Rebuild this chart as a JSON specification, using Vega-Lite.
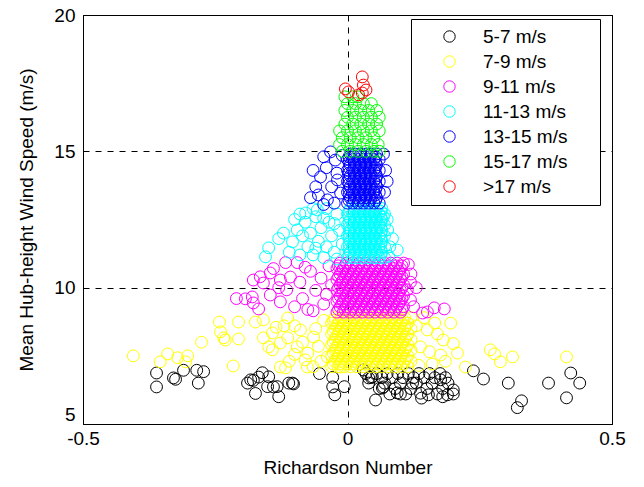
{
"$schema":"https://vega.github.io/schema/vega-lite/v6.json",
"width":529,"height":409,
"autosize":{"type":"none"},
"padding":{"left":83,"top":15,"right":32,"bottom":63},
"background":"white",
"datasets":{
"a":[{"x":-0.361,"y":6.87},{"x":-0.361,"y":6.36},{"x":-0.329,"y":6.69},{"x":-0.325,"y":6.64},{"x":-0.31,"y":6.97},{"x":-0.285,"y":6.97},{"x":-0.272,"y":6.92},{"x":-0.282,"y":6.5},{"x":-0.189,"y":6.5},{"x":-0.178,"y":6.6},{"x":-0.168,"y":6.72},{"x":-0.161,"y":6.88},{"x":-0.149,"y":6.73},{"x":-0.174,"y":6.12},{"x":-0.151,"y":6.37},{"x":-0.133,"y":6.37},{"x":-0.13,"y":6.0},{"x":-0.111,"y":6.5},{"x":-0.102,"y":6.47},{"x":-0.183,"y":6.62},{"x":-0.14,"y":6.36},{"x":-0.104,"y":6.5},{"x":-0.053,"y":6.85},{"x":-0.028,"y":6.71},{"x":-0.028,"y":6.36},{"x":-0.024,"y":6.07},{"x":-0.006,"y":6.37},{"x":0.03,"y":6.98},{"x":0.053,"y":5.88},{"x":0.047,"y":6.73},{"x":0.068,"y":6.36},{"x":0.094,"y":6.14},{"x":0.04,"y":6.69},{"x":0.066,"y":6.32},{"x":0.1,"y":6.1},{"x":0.123,"y":6.5},{"x":0.138,"y":6.13},{"x":0.153,"y":6.07},{"x":0.176,"y":6.62},{"x":0.189,"y":6.07},{"x":0.2,"y":6.25},{"x":0.238,"y":6.95},{"x":0.257,"y":6.65},{"x":0.304,"y":6.5},{"x":0.329,"y":5.85},{"x":0.321,"y":5.6},{"x":0.38,"y":6.5},{"x":0.422,"y":6.87},{"x":0.439,"y":6.5},{"x":0.414,"y":5.96},
{"x":0.035,"y":6.85},{"x":0.055,"y":6.85},{"x":0.075,"y":6.85},{"x":0.095,"y":6.85},{"x":0.115,"y":6.85},{"x":0.135,"y":6.85},{"x":0.155,"y":6.85},{"x":0.175,"y":6.85},
{"x":0.045,"y":6.7},{"x":0.065,"y":6.7},{"x":0.085,"y":6.7},{"x":0.105,"y":6.7},{"x":0.125,"y":6.7},{"x":0.145,"y":6.7},{"x":0.165,"y":6.7},{"x":0.185,"y":6.7},
{"x":0.04,"y":6.5},{"x":0.07,"y":6.5},{"x":0.1,"y":6.5},{"x":0.13,"y":6.5},{"x":0.16,"y":6.5},{"x":0.19,"y":6.5},
{"x":0.06,"y":6.3},{"x":0.09,"y":6.3},{"x":0.12,"y":6.3},{"x":0.15,"y":6.3},{"x":0.18,"y":6.3},
{"x":0.08,"y":6.1},{"x":0.11,"y":6.1},{"x":0.17,"y":6.1},{"x":0.2,"y":6.1},{"x":0.14,"y":5.95},{"x":0.18,"y":6.0}],
"b":[{"x":-0.405,"y":7.5},{"x":-0.354,"y":7.28},{"x":-0.34,"y":7.57},{"x":-0.321,"y":7.43},{"x":-0.302,"y":7.5},{"x":-0.306,"y":7.28},{"x":-0.276,"y":8.0},{"x":-0.242,"y":8.74},{"x":-0.24,"y":8.38},{"x":-0.231,"y":8.08},{"x":-0.206,"y":8.74},{"x":-0.206,"y":8.12},{"x":-0.216,"y":7.13},{"x":-0.174,"y":8.74},{"x":-0.159,"y":8.82},{"x":-0.159,"y":8.16},{"x":-0.142,"y":8.34},{"x":-0.142,"y":7.72},{"x":-0.127,"y":7.97},{"x":-0.113,"y":8.16},{"x":-0.117,"y":7.06},{"x":-0.113,"y":8.89},{"x":-0.095,"y":7.83},{"x":-0.076,"y":7.09},{"x":-0.089,"y":8.45},{"x":-0.064,"y":8.19},{"x":-0.038,"y":7.46},{"x":-0.013,"y":7.09},{"x":-0.234,"y":8.16},{"x":-0.149,"y":7.83},{"x":-0.127,"y":7.09},{"x":-0.1,"y":8.6},{"x":-0.085,"y":8.0},{"x":-0.075,"y":7.6},{"x":-0.06,"y":8.5},{"x":-0.055,"y":7.85},{"x":-0.05,"y":7.3},{"x":-0.045,"y":8.8},{"x":-0.08,"y":7.35},{"x":-0.1,"y":7.55},{"x":-0.12,"y":8.6},{"x":-0.065,"y":7.1},{"x":-0.11,"y":7.3},{"x":-0.135,"y":8.55},
{"x":0.195,"y":8.7},{"x":0.181,"y":8.08},{"x":0.208,"y":7.6},{"x":0.223,"y":7.09},{"x":0.27,"y":7.72},{"x":0.278,"y":7.57},{"x":0.289,"y":7.28},{"x":0.312,"y":7.46},{"x":0.414,"y":7.46},{"x":0.176,"y":7.53},{"x":0.151,"y":8.45},{"x":0.138,"y":7.83},{"x":0.16,"y":7.2},{"x":0.17,"y":8.3},{"x":0.145,"y":8.9},{"x":0.185,"y":7.3},{"x":0.135,"y":7.15},{"x":0.2,"y":7.95},{"x":0.13,"y":8.6},{"x":0.155,"y":7.65},{"x":0.165,"y":8.7},
{"x":-0.03,"y":7.1},{"x":-0.018,"y":7.1},{"x":-0.006,"y":7.1},{"x":0.006,"y":7.1},{"x":0.018,"y":7.1},{"x":0.03,"y":7.1},{"x":0.042,"y":7.1},{"x":0.054,"y":7.1},{"x":0.066,"y":7.1},{"x":0.078,"y":7.1},{"x":0.09,"y":7.1},{"x":0.102,"y":7.1},{"x":0.114,"y":7.1},
{"x":-0.024,"y":7.3},{"x":-0.012,"y":7.3},{"x":0,"y":7.3},{"x":0.012,"y":7.3},{"x":0.024,"y":7.3},{"x":0.036,"y":7.3},{"x":0.048,"y":7.3},{"x":0.06,"y":7.3},{"x":0.072,"y":7.3},{"x":0.084,"y":7.3},{"x":0.096,"y":7.3},{"x":0.108,"y":7.3},{"x":0.12,"y":7.3},
{"x":-0.03,"y":7.5},{"x":-0.018,"y":7.5},{"x":-0.006,"y":7.5},{"x":0.006,"y":7.5},{"x":0.018,"y":7.5},{"x":0.03,"y":7.5},{"x":0.042,"y":7.5},{"x":0.054,"y":7.5},{"x":0.066,"y":7.5},{"x":0.078,"y":7.5},{"x":0.09,"y":7.5},{"x":0.102,"y":7.5},{"x":0.114,"y":7.5},
{"x":-0.024,"y":7.7},{"x":-0.012,"y":7.7},{"x":0,"y":7.7},{"x":0.012,"y":7.7},{"x":0.024,"y":7.7},{"x":0.036,"y":7.7},{"x":0.048,"y":7.7},{"x":0.06,"y":7.7},{"x":0.072,"y":7.7},{"x":0.084,"y":7.7},{"x":0.096,"y":7.7},{"x":0.108,"y":7.7},{"x":0.12,"y":7.7},
{"x":-0.03,"y":7.9},{"x":-0.018,"y":7.9},{"x":-0.006,"y":7.9},{"x":0.006,"y":7.9},{"x":0.018,"y":7.9},{"x":0.03,"y":7.9},{"x":0.042,"y":7.9},{"x":0.054,"y":7.9},{"x":0.066,"y":7.9},{"x":0.078,"y":7.9},{"x":0.09,"y":7.9},{"x":0.102,"y":7.9},{"x":0.114,"y":7.9},
{"x":-0.024,"y":8.1},{"x":-0.012,"y":8.1},{"x":0,"y":8.1},{"x":0.012,"y":8.1},{"x":0.024,"y":8.1},{"x":0.036,"y":8.1},{"x":0.048,"y":8.1},{"x":0.06,"y":8.1},{"x":0.072,"y":8.1},{"x":0.084,"y":8.1},{"x":0.096,"y":8.1},{"x":0.108,"y":8.1},{"x":0.12,"y":8.1},
{"x":-0.03,"y":8.3},{"x":-0.018,"y":8.3},{"x":-0.006,"y":8.3},{"x":0.006,"y":8.3},{"x":0.018,"y":8.3},{"x":0.03,"y":8.3},{"x":0.042,"y":8.3},{"x":0.054,"y":8.3},{"x":0.066,"y":8.3},{"x":0.078,"y":8.3},{"x":0.09,"y":8.3},{"x":0.102,"y":8.3},{"x":0.114,"y":8.3},
{"x":-0.024,"y":8.5},{"x":-0.012,"y":8.5},{"x":0,"y":8.5},{"x":0.012,"y":8.5},{"x":0.024,"y":8.5},{"x":0.036,"y":8.5},{"x":0.048,"y":8.5},{"x":0.06,"y":8.5},{"x":0.072,"y":8.5},{"x":0.084,"y":8.5},{"x":0.096,"y":8.5},{"x":0.108,"y":8.5},{"x":0.12,"y":8.5},
{"x":-0.03,"y":8.7},{"x":-0.018,"y":8.7},{"x":-0.006,"y":8.7},{"x":0.006,"y":8.7},{"x":0.018,"y":8.7},{"x":0.03,"y":8.7},{"x":0.042,"y":8.7},{"x":0.054,"y":8.7},{"x":0.066,"y":8.7},{"x":0.078,"y":8.7},{"x":0.09,"y":8.7},{"x":0.102,"y":8.7},{"x":0.114,"y":8.7},
{"x":-0.024,"y":8.9},{"x":-0.012,"y":8.9},{"x":0,"y":8.9},{"x":0.012,"y":8.9},{"x":0.024,"y":8.9},{"x":0.036,"y":8.9},{"x":0.048,"y":8.9},{"x":0.06,"y":8.9},{"x":0.072,"y":8.9},{"x":0.084,"y":8.9},{"x":0.096,"y":8.9},{"x":0.108,"y":8.9},{"x":0.12,"y":8.9},
{"x":-0.027,"y":7.2},{"x":-0.015,"y":7.2},{"x":-0.003,"y":7.2},{"x":0.009,"y":7.2},{"x":0.021,"y":7.2},{"x":0.033,"y":7.2},{"x":0.045,"y":7.2},{"x":0.057,"y":7.2},{"x":0.069,"y":7.2},{"x":0.081,"y":7.2},{"x":0.093,"y":7.2},{"x":0.105,"y":7.2},
{"x":-0.021,"y":7.4},{"x":-0.009,"y":7.4},{"x":0.003,"y":7.4},{"x":0.015,"y":7.4},{"x":0.027,"y":7.4},{"x":0.039,"y":7.4},{"x":0.051,"y":7.4},{"x":0.063,"y":7.4},{"x":0.075,"y":7.4},{"x":0.087,"y":7.4},{"x":0.099,"y":7.4},{"x":0.111,"y":7.4},
{"x":-0.027,"y":7.6},{"x":-0.015,"y":7.6},{"x":-0.003,"y":7.6},{"x":0.009,"y":7.6},{"x":0.021,"y":7.6},{"x":0.033,"y":7.6},{"x":0.045,"y":7.6},{"x":0.057,"y":7.6},{"x":0.069,"y":7.6},{"x":0.081,"y":7.6},{"x":0.093,"y":7.6},{"x":0.105,"y":7.6},
{"x":-0.021,"y":7.8},{"x":-0.009,"y":7.8},{"x":0.003,"y":7.8},{"x":0.015,"y":7.8},{"x":0.027,"y":7.8},{"x":0.039,"y":7.8},{"x":0.051,"y":7.8},{"x":0.063,"y":7.8},{"x":0.075,"y":7.8},{"x":0.087,"y":7.8},{"x":0.099,"y":7.8},{"x":0.111,"y":7.8},
{"x":-0.027,"y":8.0},{"x":-0.015,"y":8.0},{"x":-0.003,"y":8.0},{"x":0.009,"y":8.0},{"x":0.021,"y":8.0},{"x":0.033,"y":8.0},{"x":0.045,"y":8.0},{"x":0.057,"y":8.0},{"x":0.069,"y":8.0},{"x":0.081,"y":8.0},{"x":0.093,"y":8.0},{"x":0.105,"y":8.0},
{"x":-0.021,"y":8.2},{"x":-0.009,"y":8.2},{"x":0.003,"y":8.2},{"x":0.015,"y":8.2},{"x":0.027,"y":8.2},{"x":0.039,"y":8.2},{"x":0.051,"y":8.2},{"x":0.063,"y":8.2},{"x":0.075,"y":8.2},{"x":0.087,"y":8.2},{"x":0.099,"y":8.2},{"x":0.111,"y":8.2},
{"x":-0.027,"y":8.4},{"x":-0.015,"y":8.4},{"x":-0.003,"y":8.4},{"x":0.009,"y":8.4},{"x":0.021,"y":8.4},{"x":0.033,"y":8.4},{"x":0.045,"y":8.4},{"x":0.057,"y":8.4},{"x":0.069,"y":8.4},{"x":0.081,"y":8.4},{"x":0.093,"y":8.4},{"x":0.105,"y":8.4},
{"x":-0.021,"y":8.6},{"x":-0.009,"y":8.6},{"x":0.003,"y":8.6},{"x":0.015,"y":8.6},{"x":0.027,"y":8.6},{"x":0.039,"y":8.6},{"x":0.051,"y":8.6},{"x":0.063,"y":8.6},{"x":0.075,"y":8.6},{"x":0.087,"y":8.6},{"x":0.099,"y":8.6},{"x":0.111,"y":8.6},
{"x":-0.027,"y":8.8},{"x":-0.015,"y":8.8},{"x":-0.003,"y":8.8},{"x":0.009,"y":8.8},{"x":0.021,"y":8.8},{"x":0.033,"y":8.8},{"x":0.045,"y":8.8},{"x":0.057,"y":8.8},{"x":0.069,"y":8.8},{"x":0.081,"y":8.8},{"x":0.093,"y":8.8},{"x":0.105,"y":8.8}],
"c":[{"x":-0.193,"y":9.59},{"x":-0.18,"y":9.66},{"x":-0.178,"y":9.44},{"x":-0.168,"y":9.22},{"x":-0.178,"y":10.28},{"x":-0.159,"y":10.17},{"x":-0.146,"y":10.54},{"x":-0.146,"y":9.73},{"x":-0.127,"y":9.48},{"x":-0.115,"y":9.92},{"x":-0.108,"y":10.39},{"x":-0.127,"y":10.28},{"x":-0.21,"y":9.6},{"x":-0.165,"y":10.4},{"x":-0.14,"y":10.7},{"x":-0.117,"y":10.92},{"x":-0.095,"y":10.92},{"x":-0.09,"y":10.2},{"x":-0.085,"y":9.6},{"x":-0.075,"y":9.2},{"x":-0.07,"y":10.6},{"x":-0.06,"y":9.9},{"x":-0.05,"y":10.35},{"x":-0.045,"y":9.4},{"x":-0.035,"y":10.8},{"x":-0.1,"y":9.3},{"x":-0.13,"y":10.0},{"x":-0.065,"y":9.15},{"x":-0.04,"y":9.75},{"x":-0.08,"y":10.75},{"x":-0.03,"y":10.1},
{"x":0.113,"y":9.92},{"x":0.119,"y":9.55},{"x":0.142,"y":9.07},{"x":0.151,"y":9.11},{"x":0.164,"y":9.26},{"x":0.183,"y":9.22},{"x":0.119,"y":10.2},{"x":0.12,"y":10.5},{"x":0.115,"y":10.85},{"x":0.125,"y":9.3},{"x":0.13,"y":10.0},
{"x":-0.02,"y":9.1},{"x":-0.008,"y":9.1},{"x":0.004,"y":9.1},{"x":0.016,"y":9.1},{"x":0.028,"y":9.1},{"x":0.04,"y":9.1},{"x":0.052,"y":9.1},{"x":0.064,"y":9.1},{"x":0.076,"y":9.1},{"x":0.088,"y":9.1},{"x":0.1,"y":9.1},
{"x":-0.014,"y":9.3},{"x":-0.002,"y":9.3},{"x":0.01,"y":9.3},{"x":0.022,"y":9.3},{"x":0.034,"y":9.3},{"x":0.046,"y":9.3},{"x":0.058,"y":9.3},{"x":0.07,"y":9.3},{"x":0.082,"y":9.3},{"x":0.094,"y":9.3},{"x":0.106,"y":9.3},
{"x":-0.02,"y":9.5},{"x":-0.008,"y":9.5},{"x":0.004,"y":9.5},{"x":0.016,"y":9.5},{"x":0.028,"y":9.5},{"x":0.04,"y":9.5},{"x":0.052,"y":9.5},{"x":0.064,"y":9.5},{"x":0.076,"y":9.5},{"x":0.088,"y":9.5},{"x":0.1,"y":9.5},
{"x":-0.014,"y":9.7},{"x":-0.002,"y":9.7},{"x":0.01,"y":9.7},{"x":0.022,"y":9.7},{"x":0.034,"y":9.7},{"x":0.046,"y":9.7},{"x":0.058,"y":9.7},{"x":0.07,"y":9.7},{"x":0.082,"y":9.7},{"x":0.094,"y":9.7},{"x":0.106,"y":9.7},
{"x":-0.02,"y":9.9},{"x":-0.008,"y":9.9},{"x":0.004,"y":9.9},{"x":0.016,"y":9.9},{"x":0.028,"y":9.9},{"x":0.04,"y":9.9},{"x":0.052,"y":9.9},{"x":0.064,"y":9.9},{"x":0.076,"y":9.9},{"x":0.088,"y":9.9},{"x":0.1,"y":9.9},
{"x":-0.014,"y":10.1},{"x":-0.002,"y":10.1},{"x":0.01,"y":10.1},{"x":0.022,"y":10.1},{"x":0.034,"y":10.1},{"x":0.046,"y":10.1},{"x":0.058,"y":10.1},{"x":0.07,"y":10.1},{"x":0.082,"y":10.1},{"x":0.094,"y":10.1},{"x":0.106,"y":10.1},
{"x":-0.02,"y":10.3},{"x":-0.008,"y":10.3},{"x":0.004,"y":10.3},{"x":0.016,"y":10.3},{"x":0.028,"y":10.3},{"x":0.04,"y":10.3},{"x":0.052,"y":10.3},{"x":0.064,"y":10.3},{"x":0.076,"y":10.3},{"x":0.088,"y":10.3},{"x":0.1,"y":10.3},
{"x":-0.014,"y":10.5},{"x":-0.002,"y":10.5},{"x":0.01,"y":10.5},{"x":0.022,"y":10.5},{"x":0.034,"y":10.5},{"x":0.046,"y":10.5},{"x":0.058,"y":10.5},{"x":0.07,"y":10.5},{"x":0.082,"y":10.5},{"x":0.094,"y":10.5},{"x":0.106,"y":10.5},
{"x":-0.02,"y":10.7},{"x":-0.008,"y":10.7},{"x":0.004,"y":10.7},{"x":0.016,"y":10.7},{"x":0.028,"y":10.7},{"x":0.04,"y":10.7},{"x":0.052,"y":10.7},{"x":0.064,"y":10.7},{"x":0.076,"y":10.7},{"x":0.088,"y":10.7},{"x":0.1,"y":10.7},
{"x":-0.014,"y":10.9},{"x":-0.002,"y":10.9},{"x":0.01,"y":10.9},{"x":0.022,"y":10.9},{"x":0.034,"y":10.9},{"x":0.046,"y":10.9},{"x":0.058,"y":10.9},{"x":0.07,"y":10.9},{"x":0.082,"y":10.9},{"x":0.094,"y":10.9},{"x":0.106,"y":10.9},
{"x":-0.017,"y":9.2},{"x":-0.005,"y":9.2},{"x":0.007,"y":9.2},{"x":0.019,"y":9.2},{"x":0.031,"y":9.2},{"x":0.043,"y":9.2},{"x":0.055,"y":9.2},{"x":0.067,"y":9.2},{"x":0.079,"y":9.2},{"x":0.091,"y":9.2},{"x":0.103,"y":9.2},
{"x":-0.011,"y":9.4},{"x":0.001,"y":9.4},{"x":0.013,"y":9.4},{"x":0.025,"y":9.4},{"x":0.037,"y":9.4},{"x":0.049,"y":9.4},{"x":0.061,"y":9.4},{"x":0.073,"y":9.4},{"x":0.085,"y":9.4},{"x":0.097,"y":9.4},
{"x":-0.017,"y":9.6},{"x":-0.005,"y":9.6},{"x":0.007,"y":9.6},{"x":0.019,"y":9.6},{"x":0.031,"y":9.6},{"x":0.043,"y":9.6},{"x":0.055,"y":9.6},{"x":0.067,"y":9.6},{"x":0.079,"y":9.6},{"x":0.091,"y":9.6},{"x":0.103,"y":9.6},
{"x":-0.011,"y":9.8},{"x":0.001,"y":9.8},{"x":0.013,"y":9.8},{"x":0.025,"y":9.8},{"x":0.037,"y":9.8},{"x":0.049,"y":9.8},{"x":0.061,"y":9.8},{"x":0.073,"y":9.8},{"x":0.085,"y":9.8},{"x":0.097,"y":9.8},
{"x":-0.017,"y":10.0},{"x":-0.005,"y":10.0},{"x":0.007,"y":10.0},{"x":0.019,"y":10.0},{"x":0.031,"y":10.0},{"x":0.043,"y":10.0},{"x":0.055,"y":10.0},{"x":0.067,"y":10.0},{"x":0.079,"y":10.0},{"x":0.091,"y":10.0},{"x":0.103,"y":10.0},
{"x":-0.011,"y":10.2},{"x":0.001,"y":10.2},{"x":0.013,"y":10.2},{"x":0.025,"y":10.2},{"x":0.037,"y":10.2},{"x":0.049,"y":10.2},{"x":0.061,"y":10.2},{"x":0.073,"y":10.2},{"x":0.085,"y":10.2},{"x":0.097,"y":10.2},
{"x":-0.017,"y":10.4},{"x":-0.005,"y":10.4},{"x":0.007,"y":10.4},{"x":0.019,"y":10.4},{"x":0.031,"y":10.4},{"x":0.043,"y":10.4},{"x":0.055,"y":10.4},{"x":0.067,"y":10.4},{"x":0.079,"y":10.4},{"x":0.091,"y":10.4},{"x":0.103,"y":10.4},
{"x":-0.011,"y":10.6},{"x":0.001,"y":10.6},{"x":0.013,"y":10.6},{"x":0.025,"y":10.6},{"x":0.037,"y":10.6},{"x":0.049,"y":10.6},{"x":0.061,"y":10.6},{"x":0.073,"y":10.6},{"x":0.085,"y":10.6},{"x":0.097,"y":10.6},
{"x":-0.017,"y":10.8},{"x":-0.005,"y":10.8},{"x":0.007,"y":10.8},{"x":0.019,"y":10.8},{"x":0.031,"y":10.8},{"x":0.043,"y":10.8},{"x":0.055,"y":10.8},{"x":0.067,"y":10.8},{"x":0.079,"y":10.8},{"x":0.091,"y":10.8},{"x":0.103,"y":10.8}],
"d":[{"x":-0.121,"y":12.0},{"x":-0.149,"y":11.46},{"x":-0.155,"y":11.13},{"x":-0.104,"y":11.68},{"x":-0.095,"y":12.12},{"x":-0.079,"y":12.74},{"x":-0.057,"y":12.85},{"x":0.094,"y":11.38},{"x":0.076,"y":12.12},{"x":0.068,"y":12.6},{"x":-0.09,"y":11.2},{"x":-0.085,"y":11.9},{"x":-0.08,"y":12.4},{"x":-0.075,"y":11.5},{"x":-0.07,"y":12.0},{"x":-0.065,"y":11.2},{"x":-0.06,"y":12.6},{"x":-0.055,"y":11.7},{"x":-0.05,"y":12.2},{"x":-0.045,"y":11.1},{"x":-0.04,"y":12.9},{"x":-0.04,"y":11.5},{"x":-0.035,"y":12.4},{"x":-0.03,"y":11.9},{"x":-0.025,"y":11.3},{"x":-0.02,"y":12.7},{"x":-0.015,"y":12.1},{"x":-0.01,"y":11.6},{"x":-0.11,"y":11.3},{"x":-0.1,"y":12.5},{"x":-0.065,"y":12.9},{"x":-0.13,"y":11.8},{"x":0.08,"y":11.5},{"x":0.085,"y":11.8},{"x":0.075,"y":12.5},{"x":0.078,"y":11.15},{"x":-0.045,"y":12.55},{"x":-0.025,"y":12.35},{"x":-0.06,"y":11.45},{"x":-0.02,"y":11.05},{"x":-0.09,"y":12.7},
{"x":0,"y":11.1},{"x":0.01,"y":11.1},{"x":0.02,"y":11.1},{"x":0.03,"y":11.1},{"x":0.04,"y":11.1},{"x":0.05,"y":11.1},{"x":0.06,"y":11.1},{"x":0.07,"y":11.1},
{"x":0.005,"y":11.3},{"x":0.015,"y":11.3},{"x":0.025,"y":11.3},{"x":0.035,"y":11.3},{"x":0.045,"y":11.3},{"x":0.055,"y":11.3},{"x":0.065,"y":11.3},
{"x":0,"y":11.5},{"x":0.01,"y":11.5},{"x":0.02,"y":11.5},{"x":0.03,"y":11.5},{"x":0.04,"y":11.5},{"x":0.05,"y":11.5},{"x":0.06,"y":11.5},{"x":0.07,"y":11.5},
{"x":0.005,"y":11.7},{"x":0.015,"y":11.7},{"x":0.025,"y":11.7},{"x":0.035,"y":11.7},{"x":0.045,"y":11.7},{"x":0.055,"y":11.7},{"x":0.065,"y":11.7},
{"x":0,"y":11.9},{"x":0.01,"y":11.9},{"x":0.02,"y":11.9},{"x":0.03,"y":11.9},{"x":0.04,"y":11.9},{"x":0.05,"y":11.9},{"x":0.06,"y":11.9},{"x":0.07,"y":11.9},
{"x":0.005,"y":12.1},{"x":0.015,"y":12.1},{"x":0.025,"y":12.1},{"x":0.035,"y":12.1},{"x":0.045,"y":12.1},{"x":0.055,"y":12.1},{"x":0.065,"y":12.1},
{"x":0,"y":12.3},{"x":0.01,"y":12.3},{"x":0.02,"y":12.3},{"x":0.03,"y":12.3},{"x":0.04,"y":12.3},{"x":0.05,"y":12.3},{"x":0.06,"y":12.3},{"x":0.07,"y":12.3},
{"x":0.005,"y":12.5},{"x":0.015,"y":12.5},{"x":0.025,"y":12.5},{"x":0.035,"y":12.5},{"x":0.045,"y":12.5},{"x":0.055,"y":12.5},{"x":0.065,"y":12.5},
{"x":0,"y":12.7},{"x":0.01,"y":12.7},{"x":0.02,"y":12.7},{"x":0.03,"y":12.7},{"x":0.04,"y":12.7},{"x":0.05,"y":12.7},{"x":0.06,"y":12.7},{"x":0.07,"y":12.7},
{"x":0.005,"y":12.9},{"x":0.015,"y":12.9},{"x":0.025,"y":12.9},{"x":0.035,"y":12.9},{"x":0.045,"y":12.9},{"x":0.055,"y":12.9},{"x":0.065,"y":12.9},
{"x":0.003,"y":11.2},{"x":0.013,"y":11.2},{"x":0.023,"y":11.2},{"x":0.033,"y":11.2},{"x":0.043,"y":11.2},{"x":0.053,"y":11.2},{"x":0.063,"y":11.2},
{"x":0.003,"y":11.4},{"x":0.013,"y":11.4},{"x":0.023,"y":11.4},{"x":0.033,"y":11.4},{"x":0.043,"y":11.4},{"x":0.053,"y":11.4},{"x":0.063,"y":11.4},
{"x":0.003,"y":11.6},{"x":0.013,"y":11.6},{"x":0.023,"y":11.6},{"x":0.033,"y":11.6},{"x":0.043,"y":11.6},{"x":0.053,"y":11.6},{"x":0.063,"y":11.6},
{"x":0.003,"y":11.8},{"x":0.013,"y":11.8},{"x":0.023,"y":11.8},{"x":0.033,"y":11.8},{"x":0.043,"y":11.8},{"x":0.053,"y":11.8},{"x":0.063,"y":11.8},
{"x":0.003,"y":12.0},{"x":0.013,"y":12.0},{"x":0.023,"y":12.0},{"x":0.033,"y":12.0},{"x":0.043,"y":12.0},{"x":0.053,"y":12.0},{"x":0.063,"y":12.0},
{"x":0.003,"y":12.2},{"x":0.013,"y":12.2},{"x":0.023,"y":12.2},{"x":0.033,"y":12.2},{"x":0.043,"y":12.2},{"x":0.053,"y":12.2},{"x":0.063,"y":12.2},
{"x":0.003,"y":12.4},{"x":0.013,"y":12.4},{"x":0.023,"y":12.4},{"x":0.033,"y":12.4},{"x":0.043,"y":12.4},{"x":0.053,"y":12.4},{"x":0.063,"y":12.4},
{"x":0.003,"y":12.6},{"x":0.013,"y":12.6},{"x":0.023,"y":12.6},{"x":0.033,"y":12.6},{"x":0.043,"y":12.6},{"x":0.053,"y":12.6},{"x":0.063,"y":12.6},
{"x":0.003,"y":12.8},{"x":0.013,"y":12.8},{"x":0.023,"y":12.8},{"x":0.033,"y":12.8},{"x":0.043,"y":12.8},{"x":0.053,"y":12.8},{"x":0.063,"y":12.8}],
"e":[{"x":-0.032,"y":14.98},{"x":-0.045,"y":14.8},{"x":-0.051,"y":14.06},{"x":-0.055,"y":13.4},{"x":-0.038,"y":13.22},{"x":-0.019,"y":13.95},{"x":-0.023,"y":14.68},{"x":-0.013,"y":13.47},{"x":-0.06,"y":13.7},{"x":-0.065,"y":14.3},{"x":-0.04,"y":14.4},{"x":-0.03,"y":13.7},{"x":-0.02,"y":14.2},{"x":-0.01,"y":14.85},{"x":-0.045,"y":13.05},{"x":-0.07,"y":13.3},{"x":-0.025,"y":13.1},{"x":0.07,"y":13.5},{"x":0.072,"y":14.3},{"x":0.068,"y":14.9},{"x":0.075,"y":13.9},
{"x":0,"y":13.1},{"x":0.01,"y":13.1},{"x":0.02,"y":13.1},{"x":0.03,"y":13.1},{"x":0.04,"y":13.1},{"x":0.05,"y":13.1},{"x":0.06,"y":13.1},
{"x":0.005,"y":13.3},{"x":0.015,"y":13.3},{"x":0.025,"y":13.3},{"x":0.035,"y":13.3},{"x":0.045,"y":13.3},{"x":0.055,"y":13.3},
{"x":0,"y":13.5},{"x":0.01,"y":13.5},{"x":0.02,"y":13.5},{"x":0.03,"y":13.5},{"x":0.04,"y":13.5},{"x":0.05,"y":13.5},{"x":0.06,"y":13.5},
{"x":0.005,"y":13.7},{"x":0.015,"y":13.7},{"x":0.025,"y":13.7},{"x":0.035,"y":13.7},{"x":0.045,"y":13.7},{"x":0.055,"y":13.7},
{"x":0,"y":13.9},{"x":0.01,"y":13.9},{"x":0.02,"y":13.9},{"x":0.03,"y":13.9},{"x":0.04,"y":13.9},{"x":0.05,"y":13.9},{"x":0.06,"y":13.9},
{"x":0.005,"y":14.1},{"x":0.015,"y":14.1},{"x":0.025,"y":14.1},{"x":0.035,"y":14.1},{"x":0.045,"y":14.1},{"x":0.055,"y":14.1},
{"x":0,"y":14.3},{"x":0.01,"y":14.3},{"x":0.02,"y":14.3},{"x":0.03,"y":14.3},{"x":0.04,"y":14.3},{"x":0.05,"y":14.3},{"x":0.06,"y":14.3},
{"x":0.005,"y":14.5},{"x":0.015,"y":14.5},{"x":0.025,"y":14.5},{"x":0.035,"y":14.5},{"x":0.045,"y":14.5},{"x":0.055,"y":14.5},
{"x":0,"y":14.7},{"x":0.01,"y":14.7},{"x":0.02,"y":14.7},{"x":0.03,"y":14.7},{"x":0.04,"y":14.7},{"x":0.05,"y":14.7},{"x":0.06,"y":14.7},
{"x":0.005,"y":14.9},{"x":0.015,"y":14.9},{"x":0.025,"y":14.9},{"x":0.035,"y":14.9},{"x":0.045,"y":14.9},{"x":0.055,"y":14.9},
{"x":0.003,"y":13.2},{"x":0.013,"y":13.2},{"x":0.023,"y":13.2},{"x":0.033,"y":13.2},{"x":0.043,"y":13.2},{"x":0.053,"y":13.2},
{"x":0.003,"y":13.4},{"x":0.013,"y":13.4},{"x":0.023,"y":13.4},{"x":0.033,"y":13.4},{"x":0.043,"y":13.4},{"x":0.053,"y":13.4},
{"x":0.003,"y":13.6},{"x":0.013,"y":13.6},{"x":0.023,"y":13.6},{"x":0.033,"y":13.6},{"x":0.043,"y":13.6},{"x":0.053,"y":13.6},
{"x":0.003,"y":13.8},{"x":0.013,"y":13.8},{"x":0.023,"y":13.8},{"x":0.033,"y":13.8},{"x":0.043,"y":13.8},{"x":0.053,"y":13.8},
{"x":0.003,"y":14.0},{"x":0.013,"y":14.0},{"x":0.023,"y":14.0},{"x":0.033,"y":14.0},{"x":0.043,"y":14.0},{"x":0.053,"y":14.0},
{"x":0.003,"y":14.2},{"x":0.013,"y":14.2},{"x":0.023,"y":14.2},{"x":0.033,"y":14.2},{"x":0.043,"y":14.2},{"x":0.053,"y":14.2},
{"x":0.003,"y":14.4},{"x":0.013,"y":14.4},{"x":0.023,"y":14.4},{"x":0.033,"y":14.4},{"x":0.043,"y":14.4},{"x":0.053,"y":14.4},
{"x":0.003,"y":14.6},{"x":0.013,"y":14.6},{"x":0.023,"y":14.6},{"x":0.033,"y":14.6},{"x":0.043,"y":14.6},{"x":0.053,"y":14.6},
{"x":0.003,"y":14.8},{"x":0.013,"y":14.8},{"x":0.023,"y":14.8},{"x":0.033,"y":14.8},{"x":0.043,"y":14.8},{"x":0.053,"y":14.8}],
"f":[{"x":-0.01,"y":15.0},{"x":0.005,"y":15.0},{"x":0.02,"y":15.0},{"x":0.035,"y":15.0},{"x":0.05,"y":15.0},{"x":0.06,"y":15.0},
{"x":-0.015,"y":15.25},{"x":0,"y":15.25},{"x":0.015,"y":15.25},{"x":0.03,"y":15.25},{"x":0.045,"y":15.25},{"x":0.058,"y":15.25},
{"x":-0.01,"y":15.5},{"x":0.005,"y":15.5},{"x":0.02,"y":15.5},{"x":0.035,"y":15.5},{"x":0.05,"y":15.5},
{"x":-0.015,"y":15.75},{"x":0,"y":15.75},{"x":0.015,"y":15.75},{"x":0.03,"y":15.75},{"x":0.045,"y":15.75},{"x":0.06,"y":15.75},
{"x":-0.005,"y":16.0},{"x":0.01,"y":16.0},{"x":0.025,"y":16.0},{"x":0.04,"y":16.0},{"x":0.055,"y":16.0},
{"x":0,"y":16.25},{"x":0.015,"y":16.25},{"x":0.03,"y":16.25},{"x":0.045,"y":16.25},{"x":0.06,"y":16.25},
{"x":-0.005,"y":16.5},{"x":0.01,"y":16.5},{"x":0.025,"y":16.5},{"x":0.04,"y":16.5},{"x":0.055,"y":16.5},
{"x":0,"y":16.75},{"x":0.015,"y":16.75},{"x":0.03,"y":16.75},{"x":0.045,"y":16.75},
{"x":-0.005,"y":17.0},{"x":0.01,"y":17.0},{"x":0.02,"y":17.0}],
"g":[{"x":0.028,"y":17.73},{"x":0.03,"y":17.43},{"x":0.028,"y":17.14},{"x":-0.004,"y":17.29},{"x":0.002,"y":17.18},{"x":0.021,"y":17.07},{"x":0.035,"y":17.25}]
},
"encoding":{
"x":{"field":"x","type":"quantitative","scale":{"domain":[-0.5,0.5],"nice":false,"zero":false},"axis":{"values":[-0.5,0,0.5],"format":".1~f","title":"Richardson Number","labelExpr":"replace(datum.label, '\u2212', '-')","labelFlush":false,"labelPadding":5,"titlePadding":10}},
"y":{"field":"y","type":"quantitative","scale":{"domain":[5,20],"nice":false,"zero":false},"axis":{"values":[5,10,15,20],"title":"Mean Hub-height Wind Speed (m/s)","labelFlush":false,"labelBaseline":{"condition":{"test":"datum.value == 5","value":"bottom"},"value":"middle"},"labelPadding":8,"titlePadding":17}}
},
"layer":[
{"data":{"name":"a"},"mark":{"type":"point","filled":false,"size":140,"strokeWidth":1,"opacity":1},"encoding":{"color":{"datum":"5-7 m/s","type":"nominal","scale":{"domain":["5-7 m/s","7-9 m/s","9-11 m/s","11-13 m/s","13-15 m/s","15-17 m/s",">17 m/s"],"range":["#000000","#ffff00","#ff00ff","#00ffff","#0000ff","#00ff00","#ff0000"]},"legend":{"title":"\u00a0","titleOrient":"right","titlePadding":25,"titleFontSize":19}}}},
{"data":{"name":"b"},"mark":{"type":"point","filled":false,"size":140,"strokeWidth":1,"opacity":1},"encoding":{"color":{"datum":"7-9 m/s","type":"nominal"}}},
{"data":{"name":"c"},"mark":{"type":"point","filled":false,"size":140,"strokeWidth":1,"opacity":1},"encoding":{"color":{"datum":"9-11 m/s","type":"nominal"}}},
{"data":{"name":"d"},"mark":{"type":"point","filled":false,"size":140,"strokeWidth":1,"opacity":1},"encoding":{"color":{"datum":"11-13 m/s","type":"nominal"}}},
{"data":{"name":"e"},"mark":{"type":"point","filled":false,"size":140,"strokeWidth":1,"opacity":1},"encoding":{"color":{"datum":"13-15 m/s","type":"nominal"}}},
{"data":{"name":"f"},"mark":{"type":"point","filled":false,"size":140,"strokeWidth":1,"opacity":1},"encoding":{"color":{"datum":"15-17 m/s","type":"nominal"}}},
{"data":{"name":"g"},"mark":{"type":"point","filled":false,"size":140,"strokeWidth":1,"opacity":1},"encoding":{"color":{"datum":">17 m/s","type":"nominal"}}}
],
"config":{
"font":"Liberation Sans",
"view":{"stroke":"black","strokeWidth":1},
"axis":{"domainColor":"black","domainWidth":1,"labelColor":"black","titleColor":"black","labelFontSize":19,"titleFontSize":19,"titleFontWeight":"normal","labelFont":"Liberation Sans","titleFont":"Liberation Sans","ticks":false,"grid":true,"gridColor":"black","gridDash":[6,6],"gridOpacity":1,"gridWidth":1},
"legend":{"orient":"none","legendX":328,"legendY":4,"strokeColor":"black","fillColor":"white","padding":8,"labelFontSize":19,"labelFont":"Liberation Sans","labelColor":"black","symbolSize":130,"symbolStrokeWidth":1,"symbolType":"circle","labelOffset":24,"rowPadding":5,"symbolOffset":21}
}
}
